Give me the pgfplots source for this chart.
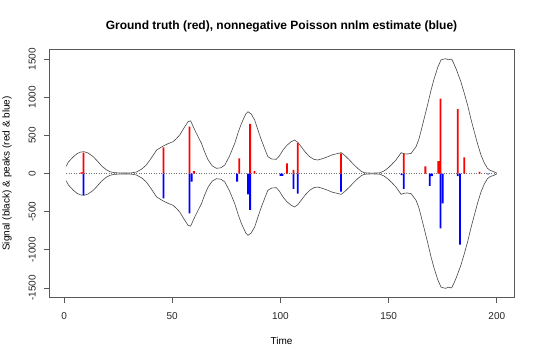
\documentclass[border=0pt]{standalone}
\usepackage{pgfplots}
\pgfplotsset{compat=1.18}
\usepackage{pgfplotstable}
\usepackage{fontspec}
\setmainfont{Liberation Sans}
\pgfplotstableread{
t up lo
1 95 -95
2 150 -150
4.3 220 -220
6 260 -260
7.5 280 -280
9.2 286 -286
11 270 -270
13.5 220 -220
15.5 160 -160
17.4 98 -98
19.5 50 -50
21.2 24 -24
23 12 -12
25 8 -8
28 6 -6
31 8 -8
33.5 20 -20
36 60 -60
38 111 -111
40.5 210 -210
42.8 308 -308
45.8 360 -360
48 390 -390
50.4 417 -417
52 460 -460
53.5 505 -505
55.5 600 -600
57.3 679 -679
58.5 690 -690
60.4 570 -570
62 480 -480
63.5 396 -396
65 280 -280
66.6 177 -177
68.5 100 -100
70.4 68 -68
72.5 75 -75
74.3 111 -111
76.5 230 -230
78.9 396 -396
80.5 540 -540
82 658 -658
84 780 -780
85 810 -810
86.5 780 -780
88.1 701 -701
89.5 580 -580
91.2 439 -439
92.8 320 -320
94.2 220 -220
96 190 -190
98.1 186 -186
99.5 230 -230
101.2 308 -308
103 370 -370
105 417 -417
106.5 439 -439
108 410 -410
109.6 351 -351
111.5 280 -280
113.5 220 -220
115.5 185 -185
117.3 177 -177
119.5 195 -195
121.9 220 -220
124 245 -245
125.5 255 -255
128.1 273 -273
130 230 -230
131.9 177 -177
133.8 120 -120
135.7 68 -68
137.3 30 -30
138.8 10 -10
142 5 -5
145.8 8 -8
147.7 30 -30
149.6 68 -68
151.5 120 -120
153.4 177 -177
155.8 273 -273
157 260 -260
158.5 255 -255
160.4 264 -264
162.7 351 -351
164 450 -450
165.3 592 -592
166.7 750 -750
168 898 -898
169.5 1080 -1080
171.1 1248 -1248
172.7 1390 -1390
174.2 1488 -1488
175.5 1500 -1500
176.5 1505 -1505
177.5 1490 -1490
179.1 1500 -1500
180 1450 -1450
181.1 1379 -1379
183.4 1203 -1203
185 1050 -1050
186.5 898 -898
188 720 -720
189.6 548 -548
191.2 380 -380
192.7 242 -242
194.2 140 -140
195.7 68 -68
197 40 -40
198.5 25 -25
199.6 10 -10
200 5 -5
}\signal
\begin{document}
\begin{tikzpicture}[x=1pt,y=1pt]
\path[use as bounding box] (0,0) rectangle (540,359);
\begin{axis}[
  at={(49pt,61.3pt)}, anchor=south west,
  scale only axis, width=465pt, height=248.4pt,
  xmin=-6.96, xmax=207.96, ymin=-1628, ymax=1628,
  axis line style={black!65, line width=0.9pt},
  xtick={0,50,100,150,200}, ytick={-1500,-1000,-500,0,500,1000,1500},
  tick pos=left, tick align=outside, major tick length=5.5pt,
  tick style={black!65, line width=0.8pt},
  /pgf/number format/assume math mode=true,
  scaled ticks=false,
  yticklabel={\pgfmathprintnumber[fixed,1000 sep={}]{\tick}},
  xticklabel={\pgfmathprintnumber[fixed,1000 sep={}]{\tick}},
  tick label style={font=\fontsize{10}{12}\selectfont, text=black!85},
  xticklabel style={anchor=base, yshift=-16pt},
  yticklabel style={rotate=90, anchor=base},
  yticklabel shift=8pt,
  every axis title shift=0pt,
  title={Ground truth (red), nonnegative Poisson nnlm estimate (blue)},
  title style={at={(axis description cs:0.5,1.0817)}, anchor=base, font=\bfseries\fontsize{12}{14}\selectfont},
  xlabel={Time},
  xlabel style={at={(axis description cs:0.5,-0.1876)}, anchor=base, font=\fontsize{10}{12}\selectfont},
  ylabel={Signal (black) \& peaks (red \& blue)},
  ylabel style={at={(axis description cs:-0.0849,0.5)}, anchor=base, rotate=0, font=\fontsize{10}{12}\selectfont},
  clip=true,
]
\addplot[black!72, line width=0.6pt, no marks] table[x=t, y=up] {\signal};
\addplot[black!72, line width=0.6pt, no marks] table[x=t, y=lo] {\signal};
\addplot[black!55, dotted, line width=0.5pt, no marks] coordinates {(1,0) (200,0)};
\addplot[ybar, bar width=1.8pt, bar shift=0pt, fill=blue, draw=none] coordinates {
(9,-282) (46,-325) (58,-522) (59,-108) (80,-107) (85,-275) (86,-478)
(100,-30) (101,-30) (106,-200) (108,-265) (128,-238) (156,-20) (157,-203)
(169,-162) (170,-33) (174,-718) (175,-391) (182,-35) (183,-932) (196,-10)};
\addplot[ybar, bar width=1.8pt, bar shift=0pt, fill=red, draw=none] coordinates {
(8,15) (9,275) (46,343) (58,614) (60,30) (81,199) (86,649) (88,30)
(103,133) (106,46) (108,400) (128,265) (157,260) (167,95) (173,162)
(174,980) (182,845) (185,210) (192,20)};
\end{axis}
\end{tikzpicture}
\end{document}
